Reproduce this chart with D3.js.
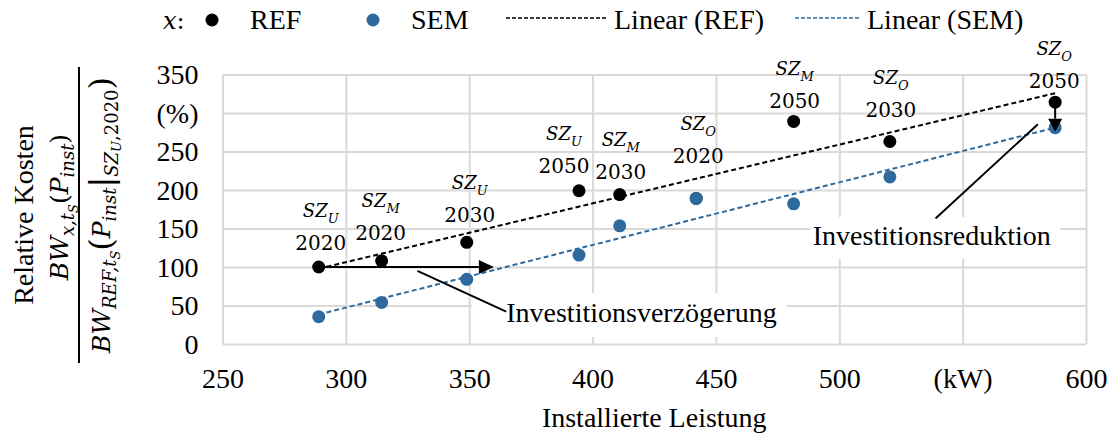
<!DOCTYPE html>
<html>
<head>
<meta charset="utf-8">
<script src="https://cdn.jsdelivr.net/npm/d3@7"></script>
</head>
<body style="margin:0">
<svg id="chart" width="1114" height="434" font-family="Liberation Serif"></svg>
<script>
// ---- data -------------------------------------------------------------
const sizeClass    = ["U", "M", "U", "U", "M", "O", "M", "O", "O"];
const scenarioYear = ["2020", "2020", "2030", "2050", "2030", "2020", "2050", "2030", "2050"];
const installedKW  = [289, 314.5, 349, 394.5, 411, 442, 481.5, 520.5, 587.5];
const costREF      = [100, 108, 132, 199, 194, 189, 289, 263, 314];
const costSEM      = [35.5, 54, 84, 115.5, 153.5, 189, 182, 217, 281];

const xTickValues = [250, 300, 350, 400, 450, 500, 550, 600];
const xTickLabels = ["250", "300", "350", "400", "450", "500", "(kW)", "600"];
const yTickValues = [0, 50, 100, 150, 200, 250, 300, 350];
const yTickLabels = ["0", "50", "100", "150", "200", "250", "(%)", "350"];

// annotation anchors in data units
const delayArrowEnd   = [360, 100];
const delayLeader     = [[329, 95], [365, 42]];
const delayText       = [365, 29];
const reductionLeader = [[539, 163], [580.5, 285.5]];
const reductionText   = [537.5, 128.5];

// ---- layout -----------------------------------------------------------
const svg = d3.select("#chart");
const plot = { left: 222.5, right: 1086, top: 74.5, bottom: 344 };
const BLUE = "#2e6a9e";
const GRID = "#d9d9d9";

const x = d3.scaleLinear().domain([250, 600]).range([plot.left, plot.right]);
const y = d3.scaleLinear().domain([0, 350]).range([plot.bottom, plot.top]);

function serifText(sel, size) {
  return sel.attr("font-family", "Liberation Serif")
    .style("font-family", '"Liberation Serif"')
    .attr("font-size", size)
    .attr("fill", "#000");
}
function mathText(sel, size) {
  return sel.attr("font-family", "DejaVu Serif")
    .style("font-family", '"DejaVu Serif"')
    .attr("font-size", size)
    .attr("fill", "#000");
}

// gridlines + tick labels (x)
const gx = svg.append("g")
  .attr("transform", `translate(0,${plot.bottom})`)
  .call(d3.axisBottom(x)
    .tickValues(xTickValues)
    .tickSize(-(plot.bottom - plot.top))
    .tickPadding(0)
    .tickFormat((d, i) => xTickLabels[i]));
gx.attr("font-family", "Liberation Serif").attr("font-size", 28);
gx.select(".domain").remove();
gx.selectAll("line").attr("stroke", GRID).attr("stroke-width", 2);
serifText(gx.selectAll("text"), 28).attr("y", 44).attr("dy", null);

// gridlines + tick labels (y)
const gy = svg.append("g")
  .attr("transform", `translate(${plot.left},0)`)
  .call(d3.axisLeft(y)
    .tickValues(yTickValues)
    .tickSize(-(plot.right - plot.left))
    .tickPadding(0)
    .tickFormat((d, i) => yTickLabels[i]));
gy.attr("font-family", "Liberation Serif").attr("font-size", 28);
gy.select(".domain").remove();
gy.selectAll("line").attr("stroke", GRID).attr("stroke-width", 2);
serifText(gy.selectAll("text"), 28).attr("x", -24).attr("dy", "0.33em");

// ---- linear trend lines -----------------------------------------------
function linearFit(xs, ys) {
  const mx = d3.mean(xs), my = d3.mean(ys);
  const sxy = d3.sum(xs, (v, i) => (v - mx) * (ys[i] - my));
  const sxx = d3.sum(xs, v => (v - mx) * (v - mx));
  const b = sxy / sxx;
  return v => my + b * (v - mx);
}
const xExtent = d3.extent(installedKW);
const line = d3.line().x(d => x(d[0])).y(d => y(d[1]));
[[costREF, "#000"], [costSEM, BLUE]].forEach(([ys, col]) => {
  const f = linearFit(installedKW, ys);
  svg.append("path")
    .attr("d", line(xExtent.map(v => [v, f(v)])))
    .attr("fill", "none")
    .attr("stroke", col)
    .attr("stroke-width", 2)
    .attr("stroke-dasharray", "5,3");
});

// ---- annotation boxes (white background hides gridlines) --------------
function textBox(x0, y0, x1, y1) {
  svg.append("rect")
    .attr("x", x0).attr("y", y0)
    .attr("width", x1 - x0).attr("height", y1 - y0)
    .attr("fill", "#fff");
}
textBox(472, 293, 787, 337);
textBox(810, 217, 1060, 259);

// ---- leader lines ------------------------------------------------------
[delayLeader, reductionLeader].forEach(seg => {
  svg.append("line")
    .attr("x1", x(seg[0][0])).attr("y1", y(seg[0][1]))
    .attr("x2", x(seg[1][0])).attr("y2", y(seg[1][1]))
    .attr("stroke", "#000").attr("stroke-width", 2);
});

serifText(svg.append("text"), 28)
  .attr("x", x(delayText[0])).attr("y", y(delayText[1]))
  .text("Investitionsverzögerung");
serifText(svg.append("text"), 28)
  .attr("x", x(reductionText[0])).attr("y", y(reductionText[1]))
  .attr("text-anchor", "middle")
  .text("Investitionsreduktion");

// ---- points -----------------------------------------------------------
svg.append("g").selectAll("circle")
  .data(installedKW.map((v, i) => [v, costREF[i]]))
  .join("circle")
  .attr("cx", d => x(d[0])).attr("cy", d => y(d[1]))
  .attr("r", 6.5).attr("fill", "#000");
svg.append("g").selectAll("circle")
  .data(installedKW.map((v, i) => [v, costSEM[i]]))
  .join("circle")
  .attr("cx", d => x(d[0])).attr("cy", d => y(d[1]))
  .attr("r", 6.5).attr("fill", BLUE);

// ---- arrows -----------------------------------------------------------
function arrow(x0, y0, x1, y1, headLen, halfW) {
  const dx = x1 - x0, dy = y1 - y0, L = Math.hypot(dx, dy);
  const ux = dx / L, uy = dy / L;
  const bx = x1 - ux * headLen, by = y1 - uy * headLen;
  svg.append("line")
    .attr("x1", x0).attr("y1", y0).attr("x2", bx).attr("y2", by)
    .attr("stroke", "#000").attr("stroke-width", 2);
  svg.append("path")
    .attr("d", `M${x1},${y1}L${bx - uy * halfW},${by + ux * halfW}L${bx + uy * halfW},${by - ux * halfW}Z`)
    .attr("fill", "#000");
}
arrow(x(installedKW[0]), y(costREF[0]), x(delayArrowEnd[0]), y(delayArrowEnd[1]), 15, 7);
const last = installedKW.length - 1;
arrow(x(installedKW[last]), y(costREF[last]), x(installedKW[last]), y(costSEM[last]) + 4, 13, 7);

// ---- point labels (size class + scenario year) -------------------------
const labelLift  = [17, 21, 20, 18, 16, 35, 13, 24, 14];
const labelShift = [2, -1, 3, -15, 1, 2, 1, 1, -1];
installedKW.forEach((v, i) => {
  const cx = x(v) + labelShift[i];
  const by = y(costREF[i]) - labelLift[i];
  mathText(svg.append("text"), 20)
    .attr("x", cx).attr("y", by)
    .attr("text-anchor", "middle")
    .text(scenarioYear[i]);
  const t = mathText(svg.append("text"), 18)
    .attr("x", cx).attr("y", by - 33)
    .attr("text-anchor", "middle")
    .attr("font-style", "italic");
  t.append("tspan").text("SZ");
  t.append("tspan").attr("dy", 6).attr("font-size", 13).text(sizeClass[i]);
});

// ---- axis titles ------------------------------------------------------
serifText(svg.append("text"), 28)
  .attr("x", (plot.left + plot.right) / 2).attr("y", 427)
  .attr("text-anchor", "middle")
  .text("Installierte Leistung");

const yt = svg.append("g").attr("transform", "translate(0,215) rotate(-90)");
serifText(yt.append("text"), 28)
  .attr("x", 0).attr("y", 33)
  .attr("text-anchor", "middle")
  .text("Relative Kosten");

// numerator: BW_{x,t_S}(P_inst)
const num = mathText(yt.append("text"), 25)
  .attr("x", 8).attr("y", 68)
  .attr("text-anchor", "middle");
num.append("tspan").attr("font-style", "italic").text("BW");
num.append("tspan").attr("font-style", "italic").attr("font-size", 18).attr("dy", 6).text("x,t");
num.append("tspan").attr("font-style", "italic").attr("font-size", 13).attr("dy", 4).text("S");
num.append("tspan").attr("dy", -10).text("(");
num.append("tspan").attr("font-style", "italic").text("P");
num.append("tspan").attr("font-style", "italic").attr("font-size", 18).attr("dy", 6).text("inst");
num.append("tspan").attr("dy", -6).text(")");

// fraction bar
yt.append("line")
  .attr("x1", -148).attr("x2", 148)
  .attr("y1", 79).attr("y2", 79)
  .attr("stroke", "#000").attr("stroke-width", 2);

// denominator: BW_{REF,t_S}(P_inst | SZ_U,2020)
const den = mathText(yt.append("text"), 25)
  .attr("x", 0).attr("y", 110)
  .attr("text-anchor", "middle");
den.append("tspan").attr("font-style", "italic").text("BW");
den.append("tspan").attr("font-style", "italic").attr("font-size", 18).attr("dy", 6).text("REF,t");
den.append("tspan").attr("font-style", "italic").attr("font-size", 13).attr("dy", 4).text("S");
den.append("tspan").attr("dy", -8).attr("font-size", 32).text("(");
den.append("tspan").attr("dy", -2).attr("font-style", "italic").text("P");
den.append("tspan").attr("font-style", "italic").attr("font-size", 18).attr("dy", 6).text("inst");
den.append("tspan").attr("dy", -4).attr("font-size", 32).text("|");
den.append("tspan").attr("font-style", "italic").attr("font-size", 18).attr("dy", 6).text("SZ");
den.append("tspan").attr("font-style", "italic").attr("font-size", 13).attr("dy", 3).text("U");
den.append("tspan").attr("font-size", 18).attr("dy", -3).text(",2020");
den.append("tspan").attr("dy", -6).attr("font-size", 32).text(")");

// ---- legend -----------------------------------------------------------
const lg = svg.append("g");
const legendY = 29;
const lx = mathText(lg.append("text"), 24).attr("x", 163).attr("y", legendY);
lx.append("tspan").attr("font-style", "italic").text("x");
lx.append("tspan").text(":");
lg.append("circle").attr("cx", 212).attr("cy", legendY - 9).attr("r", 6.5).attr("fill", "#000");
serifText(lg.append("text"), 28).attr("x", 250).attr("y", legendY).text("REF");
lg.append("circle").attr("cx", 373).attr("cy", legendY - 9).attr("r", 6.5).attr("fill", BLUE);
serifText(lg.append("text"), 28).attr("x", 411).attr("y", legendY).text("SEM");
lg.append("line").attr("x1", 506).attr("x2", 607).attr("y1", legendY - 11).attr("y2", legendY - 11)
  .attr("stroke", "#000").attr("stroke-width", 1.5).attr("stroke-dasharray", "4,2");
serifText(lg.append("text"), 28).attr("x", 614).attr("y", legendY).text("Linear (REF)");
lg.append("line").attr("x1", 795).attr("x2", 861).attr("y1", legendY - 11).attr("y2", legendY - 11)
  .attr("stroke", BLUE).attr("stroke-width", 1.5).attr("stroke-dasharray", "4,2");
serifText(lg.append("text"), 28).attr("x", 867).attr("y", legendY).text("Linear (SEM)");
</script>
</body>
</html>
